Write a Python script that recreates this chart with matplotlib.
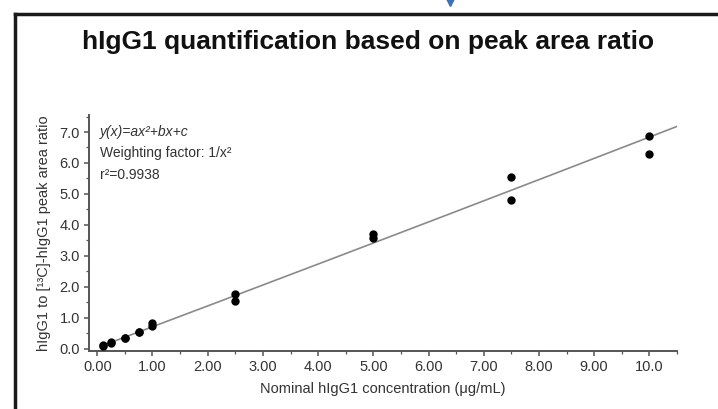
import numpy as np
import matplotlib
matplotlib.use("Agg")
import matplotlib.pyplot as plt
from matplotlib.lines import Line2D
from matplotlib.ticker import MultipleLocator

plt.rcParams["font.family"] = ["Liberation Sans", "DejaVu Sans"]

# calibration standards, duplicate injections per level
conc = [0.1, 0.1, 0.25, 0.25, 0.5, 0.5, 0.75, 0.75, 1.0, 1.0,
        2.5, 2.5, 5.0, 5.0, 7.5, 7.5, 10.0, 10.0]
ratio = [0.09, 0.11, 0.18, 0.20, 0.33, 0.35, 0.52, 0.54, 0.73, 0.82,
         1.55, 1.77, 3.58, 3.70, 4.80, 5.55, 6.28, 6.86]

xticks = [0, 1, 2, 3, 4, 5, 6, 7, 8, 9, 10]
xticklabels = ["0.00", "1.00", "2.00", "3.00", "4.00", "5.00",
               "6.00", "7.00", "8.00", "9.00", "10.0"]
yticks = [0, 1, 2, 3, 4, 5, 6, 7]
yticklabels = ["0.0", "1.0", "2.0", "3.0", "4.0", "5.0", "6.0", "7.0"]

# quadratic fit, weighting 1/x^2 (polyfit squares the weights)
x_arr = np.array(conc)
coef = np.polyfit(x_arr, np.array(ratio), 2, w=1.0 / x_arr)
xfit = np.linspace(0.1, 10.5, 200)
yfit = np.polyval(coef, xfit)

W, H = 718, 409
fig = plt.figure(figsize=(W / 100, H / 100), dpi=100)
ax = fig.add_axes([89 / W, 1 - 351 / H, (677 - 89) / W, (351 - 115) / H])

ax.plot(xfit, yfit, color="#8a8a8a", lw=1.2, zorder=2)
ax.plot(conc, ratio, "o", color="black", ms=5, zorder=3)

ax.set_xlim(-0.15, 10.5)
ax.set_ylim(-0.08, 7.55)
ax.set_xticks(xticks)
ax.set_xticklabels(xticklabels)
ax.set_yticks(yticks)
ax.set_yticklabels(yticklabels)
ax.xaxis.set_minor_locator(MultipleLocator(0.5))
ax.yaxis.set_minor_locator(MultipleLocator(0.5))

for side in ("top", "right"):
    ax.spines[side].set_visible(False)
for side in ("left", "bottom"):
    ax.spines[side].set_color("#555555")
    ax.spines[side].set_linewidth(1.4)

ax.tick_params(which="major", length=3.5, width=1.1, color="#555555",
               labelsize=10.5, labelcolor="#333333", pad=3)
ax.tick_params(which="minor", length=2, width=0.9, color="#555555")

ax.set_xlabel("Nominal hIgG1 concentration (\u03bcg/mL)", fontsize=10.5,
              color="#333333", labelpad=6)
ax.set_ylabel("hIgG1 to [\u00b9\u00b3C]-hIgG1 peak area ratio", fontsize=10.5,
              color="#333333", labelpad=6)

ax.text(0.05, 7.0, "y(x)=ax\u00b2+bx+c", fontsize=10, style="italic",
        color="#333333", va="center")
ax.text(0.05, 6.32, "Weighting factor: 1/x\u00b2", fontsize=10,
        color="#333333", va="center")
ax.text(0.05, 5.62, "r\u00b2=0.9938", fontsize=10,
        color="#333333", va="center")

fig.text(368 / W, 1 - 42 / H, "hIgG1 quantification based on peak area ratio",
         fontsize=19, fontweight="bold", ha="center", va="center", color="#111111")

# outer frame, only left and top edges fall inside the image
fig.add_artist(Line2D([15 / W, 15 / W], [0, 1 - 14 / H], transform=fig.transFigure,
                      color="#1a1a1a", lw=2.5))
fig.add_artist(Line2D([15 / W, 1], [1 - 14 / H, 1 - 14 / H], transform=fig.transFigure,
                      color="#1a1a1a", lw=2.5))
fig.add_artist(Line2D([450 / W], [1 - 2 / H], transform=fig.transFigure,
                      marker="v", color="#3b6fb6", ms=6, lw=0))

fig.savefig("out.png", dpi=100)
